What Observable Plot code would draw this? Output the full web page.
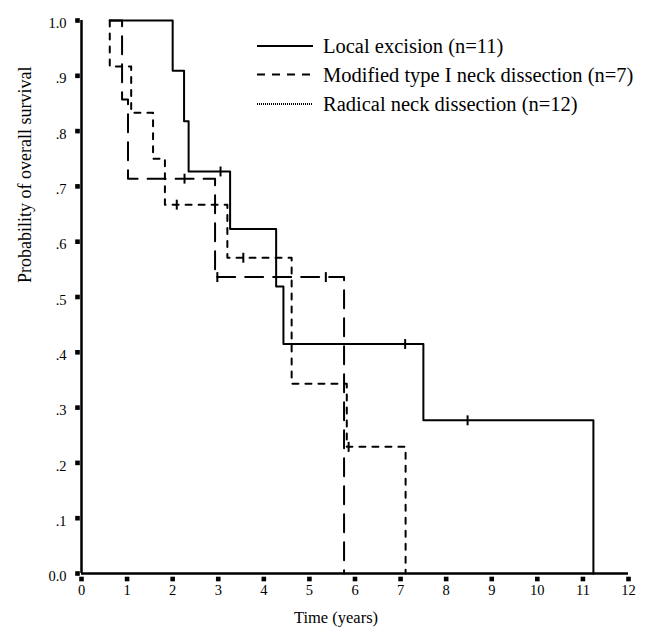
<!DOCTYPE html>
<html>
<head>
<meta charset="utf-8">
<script src="https://cdn.jsdelivr.net/npm/d3@7"></script>
<script src="https://cdn.jsdelivr.net/npm/@observablehq/plot@0.6"></script>
<style>
  html, body { margin: 0; padding: 0; background: white; }
</style>
</head>
<body>
<div id="chart"></div>
<script>
// ---- Data ----
// Local excision (n=11), solid
const localTimes = [0.62, 2.0, 2.25, 2.35, 3.26, 4.27, 4.43, 7.5, 11.23];
const localSurv  = [1.0, 0.909, 0.818, 0.727, 0.623, 0.519, 0.415, 0.277, 0];
const localCensTimes = [3.05, 7.10, 8.47];
const localCensSurv  = [0.727, 0.415, 0.277];

// Modified type I neck dissection (n=7), long dash
const modTimes = [0.62, 0.89, 1.02, 2.93, 5.76];
const modSurv  = [1.0, 0.857, 0.714, 0.536, 0];
const modCensTimes = [2.26, 2.98, 5.36];
const modCensSurv  = [0.714, 0.536, 0.536];

// Radical neck dissection (n=12), short dash
const radTimes = [0.62, 0.62, 1.09, 1.57, 1.83, 3.2, 4.61, 5.82, 7.11];
const radSurv  = [1.0, 0.917, 0.833, 0.75, 0.667, 0.571, 0.343, 0.229, 0];
const radCensTimes = [2.09, 3.55, 5.86];
const radCensSurv  = [0.667, 0.571, 0.229];

const legendLabels = ["Local excision (n=11)", "Modified type I neck dissection (n=7)", "Radical neck dissection (n=12)"];

const xTicks = [0,1,2,3,4,5,6,7,8,9,10,11,12];
const xTickLabels = ["0","1","2","3","4","5","6","7","8","9","10","11","12"];
const yTicks = [0,0.1,0.2,0.3,0.4,0.5,0.6,0.7,0.8,0.9,1.0];
const yTickLabels = ["0.0",".1",".2",".3",".4",".5",".6",".7",".8",".9","1.0"];

const xTitle = "Time (years)";
const yTitle = "Probability of overall survival";

// ---- Build tables ----
const zip = (t, s) => t.map((d, i) => ({t: d, s: s[i]}));
const localData = zip(localTimes, localSurv);
const modData = zip(modTimes, modSurv);
const radData = zip(radTimes, radSurv);
const localCens = zip(localCensTimes, localCensSurv);
const modCens = zip(modCensTimes, modCensSurv);
const radCens = zip(radCensTimes, radCensSurv);

// vertical bar symbol for censor marks
const vbar = {
  draw(context, size) {
    const h = Math.sqrt(size) / 2;
    context.moveTo(0, -h);
    context.lineTo(0, h);
  }
};

const font = "'Liberation Serif', 'Times New Roman', serif";

const chart = Plot.plot({
  width: 645,
  height: 632,
  marginLeft: 81,
  marginRight: 17,
  marginTop: 20,
  marginBottom: 59,
  x: {domain: [0, 12], axis: null},
  y: {domain: [0, 1], axis: null},
  style: {fontFamily: font, background: "white", color: "black"},
  marks: [
    // axes lines
    Plot.ruleY([0], {stroke: "black", strokeWidth: 2.5}),
    Plot.ruleX([0], {stroke: "black", strokeWidth: 2.5}),
    // tick squares
    Plot.dot(xTicks, {x: d => d, frameAnchor: "bottom", dy: 5.5, symbol: "square", r: 2.6, fill: "black", stroke: "none"}),
    Plot.dot(yTicks, {y: d => d, frameAnchor: "left", dx: -4, symbol: "square", r: 2.6, fill: "black", stroke: "none"}),
    // tick labels
    Plot.text(xTicks, {x: d => d, text: (d, i) => xTickLabels[i], frameAnchor: "bottom", dy: 21.5, fontSize: 14.5, fill: "black"}),
    Plot.text(yTicks, {y: d => d, text: (d, i) => yTickLabels[i], frameAnchor: "left", textAnchor: "end", dx: -15, dy: 3, fontSize: 14.5, fill: "black"}),
    // axis titles
    Plot.text([xTitle], {text: d => d, frameAnchor: "bottom", dx: -19, dy: 49.5, fontSize: 16.5, fill: "black"}),
    Plot.text([yTitle], {text: d => d, frameAnchor: "left", rotate: -90, dx: -56, dy: -14, fontSize: 18, fill: "black"}),
    // curves
    Plot.line(radData, {x: "t", y: "s", curve: "step-after", stroke: "black", strokeWidth: 2, strokeDasharray: "6,7"}),
    Plot.line(modData, {x: "t", y: "s", curve: "step-after", stroke: "black", strokeWidth: 2, strokeDasharray: "18,10"}),
    Plot.line(localData, {x: "t", y: "s", curve: "step-after", stroke: "black", strokeWidth: 2}),
    // censor marks
    Plot.dot(radCens, {x: "t", y: "s", symbol: vbar, r: 5.6, stroke: "black", strokeWidth: 2, fill: "none"}),
    Plot.dot(modCens, {x: "t", y: "s", symbol: vbar, r: 5.6, stroke: "black", strokeWidth: 2, fill: "none"}),
    Plot.dot(localCens, {x: "t", y: "s", symbol: vbar, r: 5.6, stroke: "black", strokeWidth: 2, fill: "none"})
  ]
});

// ---- Legend (inside plot, top right) ----
const svg = d3.select(chart);
const legendStyles = [
  {dash: null, width: 2},
  {dash: "8,7", width: 2},
  {dash: "1,1", width: 2}
];
const legendRowY = [46, 74.5, 104];
const lg = svg.append("g").attr("text-anchor", "start");
legendLabels.forEach((label, i) => {
  const y = legendRowY[i];
  const ln = lg.append("line")
    .attr("x1", 257).attr("x2", 313)
    .attr("y1", y).attr("y2", y)
    .attr("stroke", "black")
    .attr("stroke-width", legendStyles[i].width);
  if (legendStyles[i].dash) ln.attr("stroke-dasharray", legendStyles[i].dash);
  lg.append("text")
    .attr("x", 323)
    .attr("y", y + 7)
    .attr("text-anchor", "start")
    .attr("font-family", font)
    .attr("font-size", 20.5)
    .attr("fill", "black")
    .text(label);
});

document.getElementById("chart").appendChild(chart);
</script>
</body>
</html>
